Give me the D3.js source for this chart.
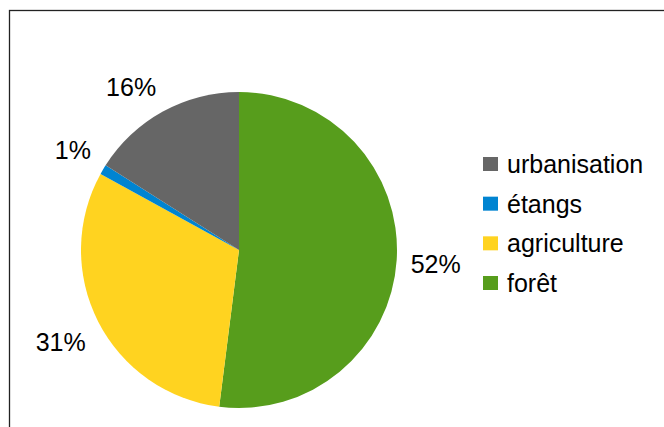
<!DOCTYPE html>
<html>
<head>
<meta charset="utf-8">
<script src="https://cdn.jsdelivr.net/npm/d3@7"></script>
<style>
  body { margin: 0; background: #fff; }
  svg text { font-family: "Liberation Sans", Arial, sans-serif; fill: #000; }
</style>
</head>
<body>
<svg id="chart"></svg>
<script>
// data, drawing order clockwise from 12 o'clock
var categories = ["forêt", "agriculture", "étangs", "urbanisation"];
var values = [52, 31, 1, 16];
var colors = ["#579d1c", "#ffd320", "#0084d1", "#666666"];
// legend lists them the other way round
var legendOrder = ["urbanisation", "étangs", "agriculture", "forêt"];

var width = 664, height = 427;
var cx = 239, cy = 250, radius = 158;

var svg = d3.select("#chart")
    .attr("width", width)
    .attr("height", height);

// frame (runs off the right and bottom)
svg.append("rect")
    .attr("x", 9.5).attr("y", 10.5)
    .attr("width", 700).attr("height", 500)
    .attr("fill", "none")
    .attr("stroke", "#222")
    .attr("stroke-width", 1.3);

var data = categories.map(function(c, i) { return {name: c, value: values[i]}; });

var color = d3.scaleOrdinal()
    .domain(categories)
    .range(colors);

var pie = d3.pie()
    .sort(null)
    .value(function(d) { return d.value; });

var arc = d3.arc().innerRadius(0).outerRadius(radius);
var labelArc = d3.arc().innerRadius(172).outerRadius(172);

var g = svg.append("g").attr("transform", "translate(" + cx + "," + cy + ")");

var arcs = pie(data);

g.selectAll("path")
    .data(arcs)
    .enter()
    .append("path")
    .attr("d", arc)
    .attr("fill", function(d) { return color(d.data.name); });

// labels hang off the anchor point by their nearest corner (text box incl. leading)
function midAngle(d) { return (d.startAngle + d.endAngle) / 2; }

g.selectAll("text.lbl")
    .data(arcs)
    .enter()
    .append("text")
    .attr("class", "lbl")
    .attr("transform", function(d) { return "translate(" + labelArc.centroid(d) + ")"; })
    .attr("text-anchor", function(d) {
        var s = Math.sin(midAngle(d));
        return s > 0.3 ? "start" : (s < -0.3 ? "end" : "middle");
    })
    .attr("dy", function(d) {
        var c = Math.cos(midAngle(d));
        return c > 0.3 ? "-0.15em" : (c < -0.3 ? "0.9em" : "0.5em");
    })
    .style("font-size", "25px")
    .text(function(d) { return d.data.value + "%"; });

// legend
var y = d3.scalePoint()
    .domain(legendOrder)
    .range([164, 283]);

var legend = svg.append("g");
var rows = legend.selectAll("g")
    .data(legendOrder)
    .enter()
    .append("g")
    .attr("transform", function(d) { return "translate(483," + y(d) + ")"; });

rows.append("rect")
    .attr("x", 0).attr("y", -7)
    .attr("width", 15).attr("height", 14)
    .attr("fill", function(d) { return color(d); });

rows.append("text")
    .attr("x", 24)
    .attr("dy", "0.36em")
    .style("font-size", "25px")
    .text(function(d) { return d; });
</script>
</body>
</html>
